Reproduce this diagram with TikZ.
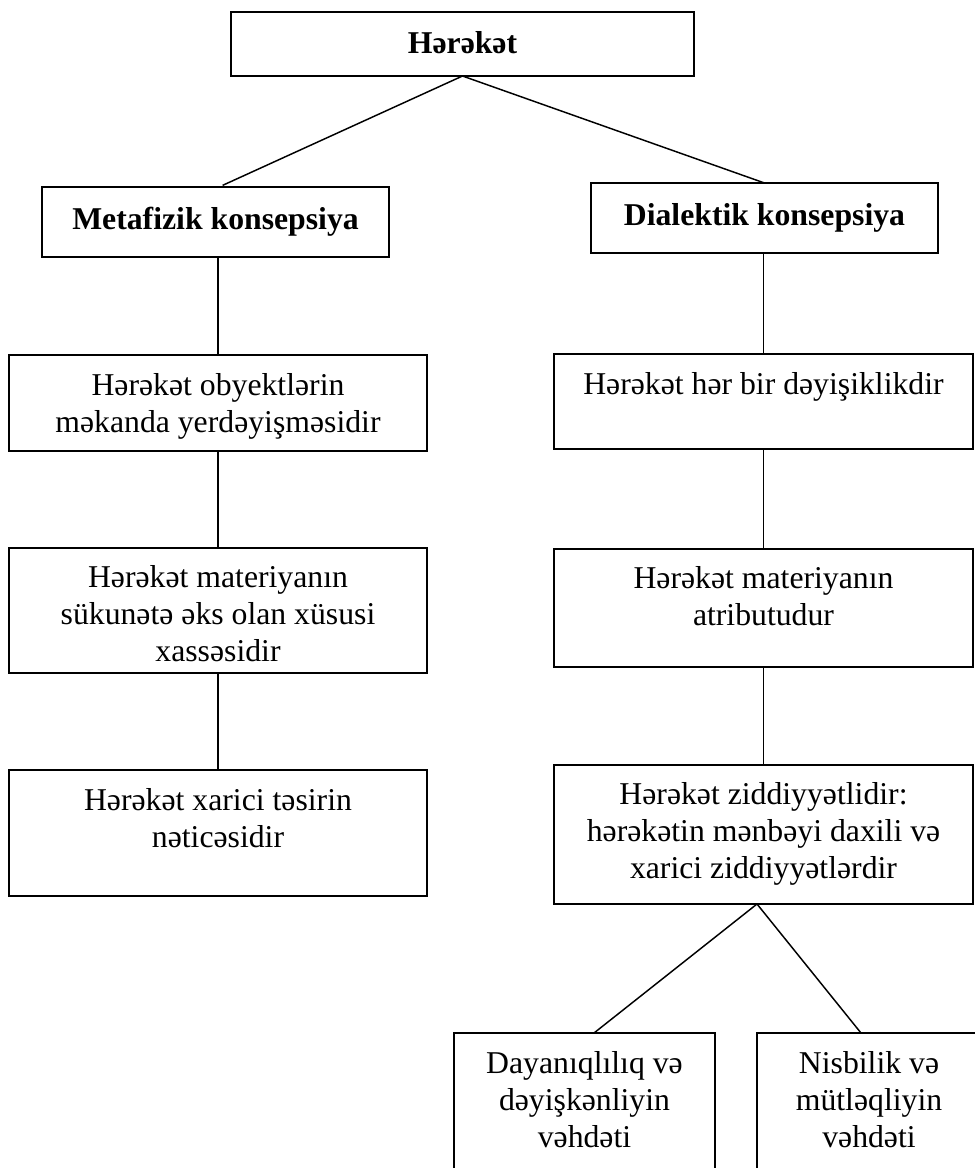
\documentclass[tikz,border=0pt]{standalone}
\usepackage{fontspec}
\setmainfont{Liberation Serif}
\usetikzlibrary{calc}
\newlength\pxu
\setlength\pxu{0.75pt}
\newcommand\bxt[4]{\parbox[c][#2\pxu][t]{#1\pxu}{\centering\rule{0pt}{#3\pxu}#4\par}}
\begin{document}
\begin{tikzpicture}[x=0.75pt,y=-0.75pt,
  box/.style={draw, line width=1.4pt, inner sep=0pt, outer sep=0pt, font=\fontsize{23.8pt}{27.75pt}\selectfont},
  conn/.style={line width=1.1pt}]
\useasboundingbox (0,0) rectangle (975,1168);
\clip (0,0) rectangle (975,1168);
\node[box] (top) at (462.5,44) {\bfseries\bxt{463}{64}{41}{Hərəkət}};
\node[box] (meta) at (215.5,222) {\bfseries\bxt{347}{70}{42}{Metafizik konsepsiya}};
\node[box] (dial) at (764.5,218) {\bfseries\bxt{347}{70}{42}{Dialektik konsepsiya}};
\node[box] (l1) at (218,403) {\bxt{418}{96}{40}{Hərəkət obyektlərin\\ məkanda yerdəyişməsidir}};
\node[box] (l2) at (218,610.5) {\bxt{418}{125}{39}{Hərəkət materiyanın\\ sükunətə əks olan xüsusi\\ xassəsidir}};
\node[box] (l3) at (218,833) {\bxt{418}{126}{40}{Hərəkət xarici təsirin\\ nəticəsidir}};
\node[box] (r1) at (763.5,401.5) {\bxt{419}{95}{40}{Hərəkət hər bir dəyişiklikdir}};
\node[box] (r2) at (763.5,608) {\bxt{419}{118}{39}{Hərəkət materiyanın\\ atributudur}};
\node[box] (r3) at (763.5,834.5) {\bxt{419}{139}{39}{Hərəkət ziddiyyətlidir:\\ hərəkətin mənbəyi daxili və\\ xarici ziddiyyətlərdir}};
\node[box] (b1) at (584.5,1106.5) {\bxt{261}{147}{40}{Dayanıqlılıq və\\ dəyişkənliyin\\ vəhdəti}};
\node[box] (b2) at (869,1106.5) {\bxt{224}{147}{40}{Nisbilik və\\ mütləqliyin\\ vəhdəti}};
\draw[conn, shorten >=3pt] (top.south) -- ($(meta.north)+(3.5,0)$);
\draw[conn] (top.south) -- (dial.north);
\draw[conn] (l1.north |- meta.south) -- (l1.north);
\draw[conn] (l1.south) -- (l2.north);
\draw[conn] (l2.south) -- (l3.north);
\draw[conn] (r1.north |- dial.south) -- (r1.north);
\draw[conn] (r1.south) -- (r2.north);
\draw[conn] (r2.south) -- (r3.north);
\coordinate (rj) at ($(r3.south)+(-6.5,0)$);
\draw[conn] (rj) -- ($(b1.north)+(9.5,0)$);
\draw[conn] (rj) -- ($(b2.north)+(-8,0)$);
\end{tikzpicture}
\end{document}
